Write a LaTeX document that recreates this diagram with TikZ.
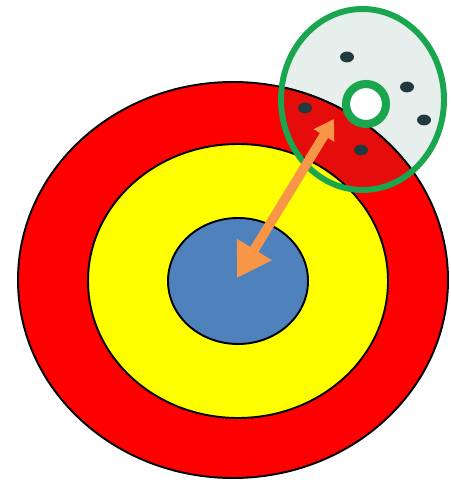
\documentclass[tikz,border=0pt]{standalone}
\usepackage{tikz}
\usetikzlibrary{arrows.meta}
\definecolor{tgred}{HTML}{FF0000}
\definecolor{tgredd}{HTML}{E50C0C}
\definecolor{tgyellow}{HTML}{FFFF00}
\definecolor{tgblue}{HTML}{4F81BD}
\definecolor{tggreen}{HTML}{1AA64E}
\definecolor{tgmist}{HTML}{E6EFEC}
\definecolor{tgorange}{HTML}{F79646}
\definecolor{tgdot}{HTML}{1E3C40}
\tikzset{
  ring/.style   ={draw=black, line width=1.1pt},
  lens/.style   ={draw=tggreen, line width=3.4pt},
  hole/.style   ={draw=tggreen, fill=white, line width=4.6pt},
  shot/.style   ={fill=tgdot, draw=black!80, line width=0.5pt},
  aim/.style    ={draw=tgorange, line width=5.4pt,
                  {Triangle[length=11pt,width=13pt]}-{Triangle[length=19pt,width=22pt]}},
}
\begin{document}
\begin{tikzpicture}[x=0.02cm,y=-0.02cm]
  \useasboundingbox (0,0) rectangle (450,482);
  % zoom lens background
  \fill[tgmist] (362.5,99.5) ellipse[x radius=81.5, y radius=90.5];
  % target
  \filldraw[ring, fill=tgred]    (233,280) ellipse[x radius=215, y radius=198];
  \filldraw[ring, fill=tgyellow] (238,281) ellipse[x radius=150, y radius=137];
  \filldraw[ring, fill=tgblue]   (238,281) ellipse[x radius=70,  y radius=63];
  \begin{scope}
    \clip (362.5,99.5) ellipse[x radius=81.5, y radius=90.5];
    \filldraw[ring, fill=tgredd]   (233,280) ellipse[x radius=215, y radius=198];
    \filldraw[ring, fill=tgyellow] (238,281) ellipse[x radius=150, y radius=137];
  \end{scope}
  % shots
  \foreach \p in {(347,57),(407,87),(424,120),(305,108),(361,150)}
      \filldraw[shot] \p ellipse[x radius=6.5, y radius=5];
  \draw[lens] (362.5,99.5) ellipse[x radius=81.5, y radius=90.5];
  % measured hit
  \coordinate (bull) at (237,278);
  \coordinate (hit)  at (334,119);
  \draw[aim] (hit) -- (bull);
  \draw[hole] (366,104) circle[radius=20];
\end{tikzpicture}
\end{document}
